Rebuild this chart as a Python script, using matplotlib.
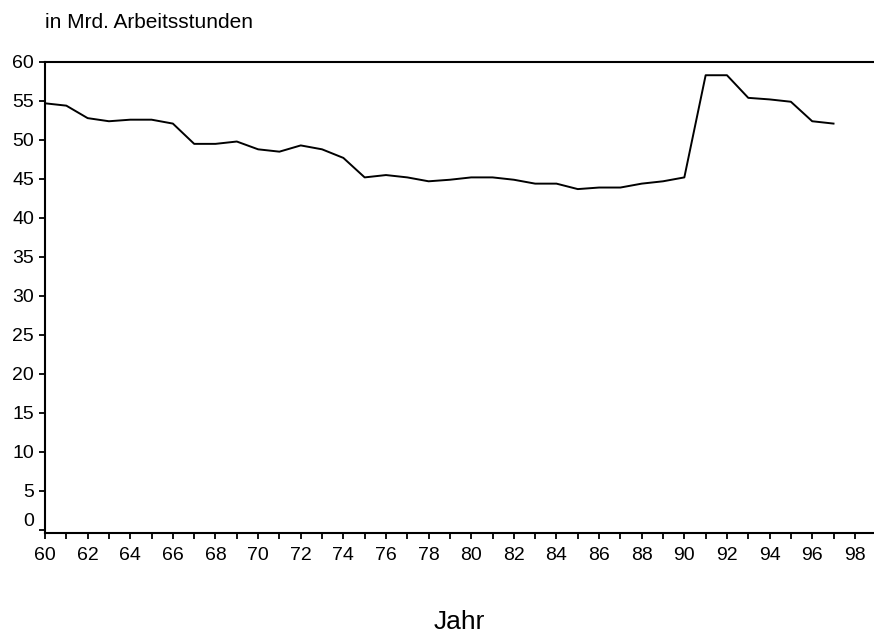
import numpy as np
import matplotlib
matplotlib.use('Agg')
import matplotlib.pyplot as plt

# Arbeitsvolumen, Jahre 1960-1997 (zweistellig)
years = np.arange(60, 98)
hours = [54.7, 54.4, 52.8, 52.4, 52.6, 52.6, 52.1, 49.5, 49.5, 49.8,
         48.8, 48.5, 49.3, 48.8, 47.7, 45.2, 45.5, 45.2, 44.7, 44.9,
         45.2, 45.2, 44.9, 44.4, 44.4, 43.7, 43.9, 43.9, 44.4, 44.7,
         45.2, 58.3, 58.3, 55.4, 55.2, 54.9, 52.4, 52.1]
yticks = np.arange(0, 61, 5)
xticks_major = np.arange(60, 99, 2)

plt.rcParams['font.family'] = ['Liberation Sans', 'DejaVu Sans']

fig = plt.figure(figsize=(8.74, 6.35), dpi=100)
ax = fig.add_axes([0.0515, 0.1606, 0.9485, 0.7418])

ax.plot(years, hours, color='black', linewidth=1.4)

ax.set_xlim(60, 98.9)
ax.set_ylim(-0.4, 60)
ax.set_yticks(yticks)
ax.set_xticks(xticks_major)
ax.set_xticks(np.arange(61, 99, 2), minor=True)
ax.tick_params(axis='both', which='both', direction='out', length=4.5, width=1.3,
               labelsize=14, colors='black')
ax.tick_params(axis='x', pad=5.5)
ax.tick_params(axis='y', pad=3.5)

for side in ['left', 'bottom', 'top']:
    ax.spines[side].set_linewidth(1.5)
ax.spines['right'].set_visible(False)

# the "0" label sits a little above its tick in the original
fig.canvas.draw()
for lbl in ax.get_yticklabels():
    if lbl.get_text() == '0':
        lbl.set_verticalalignment('bottom')

fig.text(45 / 874, 1 - 22 / 635, 'in Mrd. Arbeitsstunden', fontsize=15,
         va='center', ha='left')
fig.text(459 / 874, 1 - 622 / 635, 'Jahr', fontsize=19, va='center', ha='center')

fig.savefig('out.png', dpi=100)
